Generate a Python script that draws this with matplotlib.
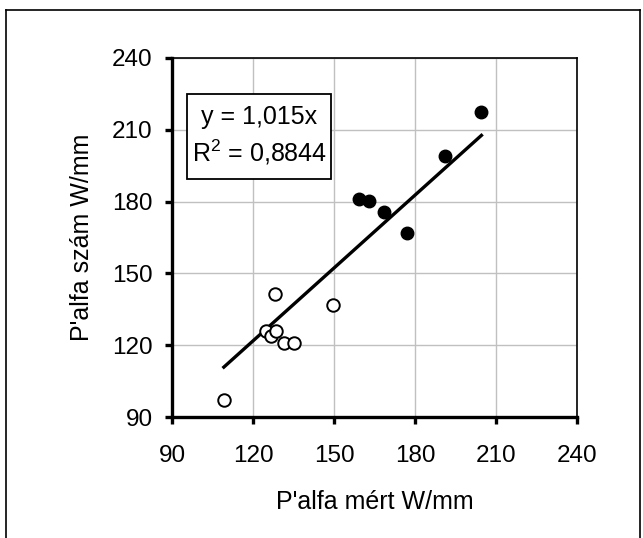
import numpy as np
import matplotlib
matplotlib.use("Agg")
import matplotlib.pyplot as plt
from matplotlib.patches import Rectangle
from matplotlib.lines import Line2D

plt.rcParams['font.family'] = ['Liberation Sans', 'DejaVu Sans']
plt.rcParams['mathtext.fontset'] = 'custom'
plt.rcParams['mathtext.rm'] = 'Liberation Sans'
plt.rcParams['mathtext.it'] = 'Liberation Sans'
plt.rcParams['mathtext.default'] = 'regular'

# measured (open) and calculated (filled) specific power values, W/mm
x_open = [109.2, 124.7, 126.6, 128.7, 128.1, 131.4, 135.1, 149.8]
y_open = [97.0, 126.1, 123.7, 126.0, 141.4, 120.8, 120.8, 136.8]
x_filled = [159.2, 162.9, 168.5, 176.9, 191.1, 204.6]
y_filled = [181.1, 180.1, 175.5, 166.9, 199.2, 217.3]

slope = 1.015
r2 = 0.8844
ticks = [90, 120, 150, 180, 210, 240]

fig = plt.figure(figsize=(6.43, 5.38), dpi=100)
ax = fig.add_axes([172 / 643, 1 - 417 / 538, 405 / 643, 359 / 538])

ax.plot(x_open, y_open, 'o', ms=9, mfc='white', mec='black', mew=1.4,
        zorder=4)
ax.plot(x_filled, y_filled, 'o', ms=9, mfc='black', mec='black',
        zorder=4)

# trendline through the origin over the data range
x_all = x_open + x_filled
xs = np.array([min(x_all), max(x_all)])
ax.plot(xs, slope * xs, color='black', lw=2.4, zorder=3)

ax.set_xlim(90, 240)
ax.set_ylim(90, 240)
ax.set_xticks(ticks)
ax.set_yticks(ticks)
ax.grid(True, color='#c0c0c0', lw=1.0)
ax.set_axisbelow(True)

for side in ['left', 'bottom']:
    ax.spines[side].set_linewidth(2.4)
for side in ['top', 'right']:
    ax.spines[side].set_linewidth(1.2)
ax.tick_params(direction='out', length=5, width=2.4, labelsize=17.5)
ax.tick_params(axis='x', pad=15)
ax.tick_params(axis='y', pad=9)

ax.set_xlabel("P'alfa mért W/mm", fontsize=18, labelpad=17)
ax.set_ylabel("P'alfa szám W/mm", fontsize=18, labelpad=13)

# equation box
ax.add_patch(Rectangle((0.037, 0.663), 0.356, 0.237, transform=ax.transAxes,
                       facecolor='white', edgecolor='black', lw=1.3,
                       zorder=5))
ax.text(0.215, 0.835, 'y = ' + f'{slope:.3f}'.replace('.', ',') + 'x',
        transform=ax.transAxes, ha='center', va='center', fontsize=18,
        zorder=6)
ax.text(0.215, 0.738, 'R$^2$ = ' + f'{r2:.4f}'.replace('.', ','),
        transform=ax.transAxes, ha='center', va='center', fontsize=18,
        zorder=6)

# frame around the figure
for xx, yy in [([6, 6], [0, 528]), ([6, 640], [528, 528]),
               ([640, 640], [528, 0])]:
    fig.add_artist(Line2D(np.array(xx) / 643, np.array(yy) / 538,
                          transform=fig.transFigure, color='black', lw=1.2))

fig.savefig('out.png', dpi=100, facecolor='white')
